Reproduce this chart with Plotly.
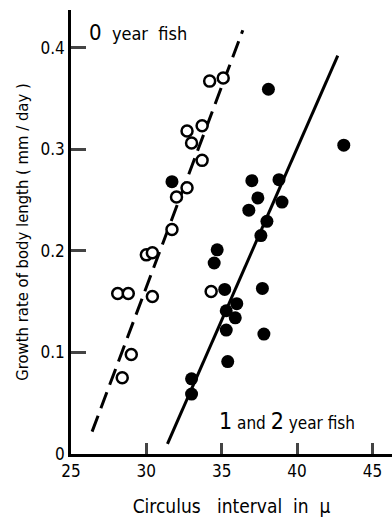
import plotly.graph_objects as go

# 0 year fish (open circles)
open_x = [34.2, 35.1, 32.7, 33.7, 33.0, 33.7, 32.7, 32.0, 31.7, 30.0, 30.4, 28.1, 28.8, 30.4, 34.3, 29.0, 28.4]
open_y = [0.367, 0.370, 0.318, 0.323, 0.306, 0.289, 0.262, 0.253, 0.221, 0.196, 0.198, 0.158, 0.158, 0.155, 0.160, 0.098, 0.075]

# 1 and 2 year fish (filled circles)
fill_x = [31.7, 38.1, 43.1, 37.0, 38.8, 37.4, 39.0, 36.8, 38.0, 37.6, 34.7, 34.5, 35.2, 37.7, 36.0, 35.3, 35.9, 35.3, 37.8, 35.4, 33.0, 33.0]
fill_y = [0.268, 0.359, 0.304, 0.269, 0.270, 0.252, 0.248, 0.240, 0.229, 0.215, 0.201, 0.188, 0.162, 0.163, 0.148, 0.141, 0.134, 0.122, 0.118, 0.091, 0.074, 0.059]

# regression lines (end points)
dash_x = [26.4, 36.4]
dash_y = [0.022, 0.417]
solid_x = [31.4, 42.7]
solid_y = [0.010, 0.392]

x_ticks = [25, 30, 35, 40, 45]
y_ticks = [0, 0.1, 0.2, 0.3, 0.4]
y_tick_text = ["0", "0.1", "0.2", "0.3", "0.4"]

FONT = "Liberation Sans Narrow, DejaVu Sans Condensed, Arial Narrow, sans-serif"
SP = "&#160;"

fig = go.Figure()
fig.add_trace(go.Scatter(x=dash_x, y=dash_y, mode="lines",
                         line=dict(color="black", width=3, dash="17px,8px"), showlegend=False))
fig.add_trace(go.Scatter(x=solid_x, y=solid_y, mode="lines",
                         line=dict(color="black", width=3), showlegend=False))
fig.add_trace(go.Scatter(x=open_x, y=open_y, mode="markers",
                         marker=dict(size=11, color="white", line=dict(color="black", width=2.5)),
                         showlegend=False))
fig.add_trace(go.Scatter(x=fill_x, y=fill_y, mode="markers",
                         marker=dict(size=13, color="black", line=dict(width=0)),
                         showlegend=False))

fig.update_layout(
    width=392, height=517,
    margin=dict(l=71, r=0, t=10, b=63),
    paper_bgcolor="white", plot_bgcolor="white",
    font=dict(family=FONT, color="black", size=16),
    xaxis=dict(range=[25, 46.3], tickvals=x_ticks, ticks="inside", ticklen=11, tickwidth=2.5,
               showline=True, linewidth=2.5, linecolor="black", showgrid=False, zeroline=False,
               tickfont=dict(size=17),
               title=dict(text="Circulus" + SP * 3 + "interval" + SP * 2 + "in" + SP * 2 + "μ",
                          font=dict(size=19), standoff=20)),
    yaxis=dict(range=[0, 0.437], tickvals=y_ticks, ticktext=y_tick_text, ticks="inside", ticklen=15,
               tickwidth=2.5, showline=True, linewidth=2.5, linecolor="black", showgrid=False,
               zeroline=False, tickfont=dict(size=17),
               title=dict(text="Growth" + SP + "rate" + SP + "of" + SP + "body" + SP
                          + "length" + SP + "(" + SP + "mm" + SP + "/" + SP + "day" + SP + ")",
                          font=dict(size=16.5), standoff=8)),
    annotations=[
        dict(x=0.05, y=0.95, xref="paper", yref="paper", xanchor="left", yanchor="middle",
             text="<span style='font-size:22px'>0</span>" + SP * 2 + "year" + SP * 2 + "fish",
             showarrow=False, font=dict(size=18)),
        dict(x=0.455, y=0.075, xref="paper", yref="paper", xanchor="left", yanchor="middle",
             text="<span style='font-size:23px'>1</span>" + SP + "and" + SP + "<span style='font-size:23px'>2</span>"
                  + SP + "year" + SP + "fish",
             showarrow=False, font=dict(size=17)),
    ],
)

fig.write_html("out.html")
